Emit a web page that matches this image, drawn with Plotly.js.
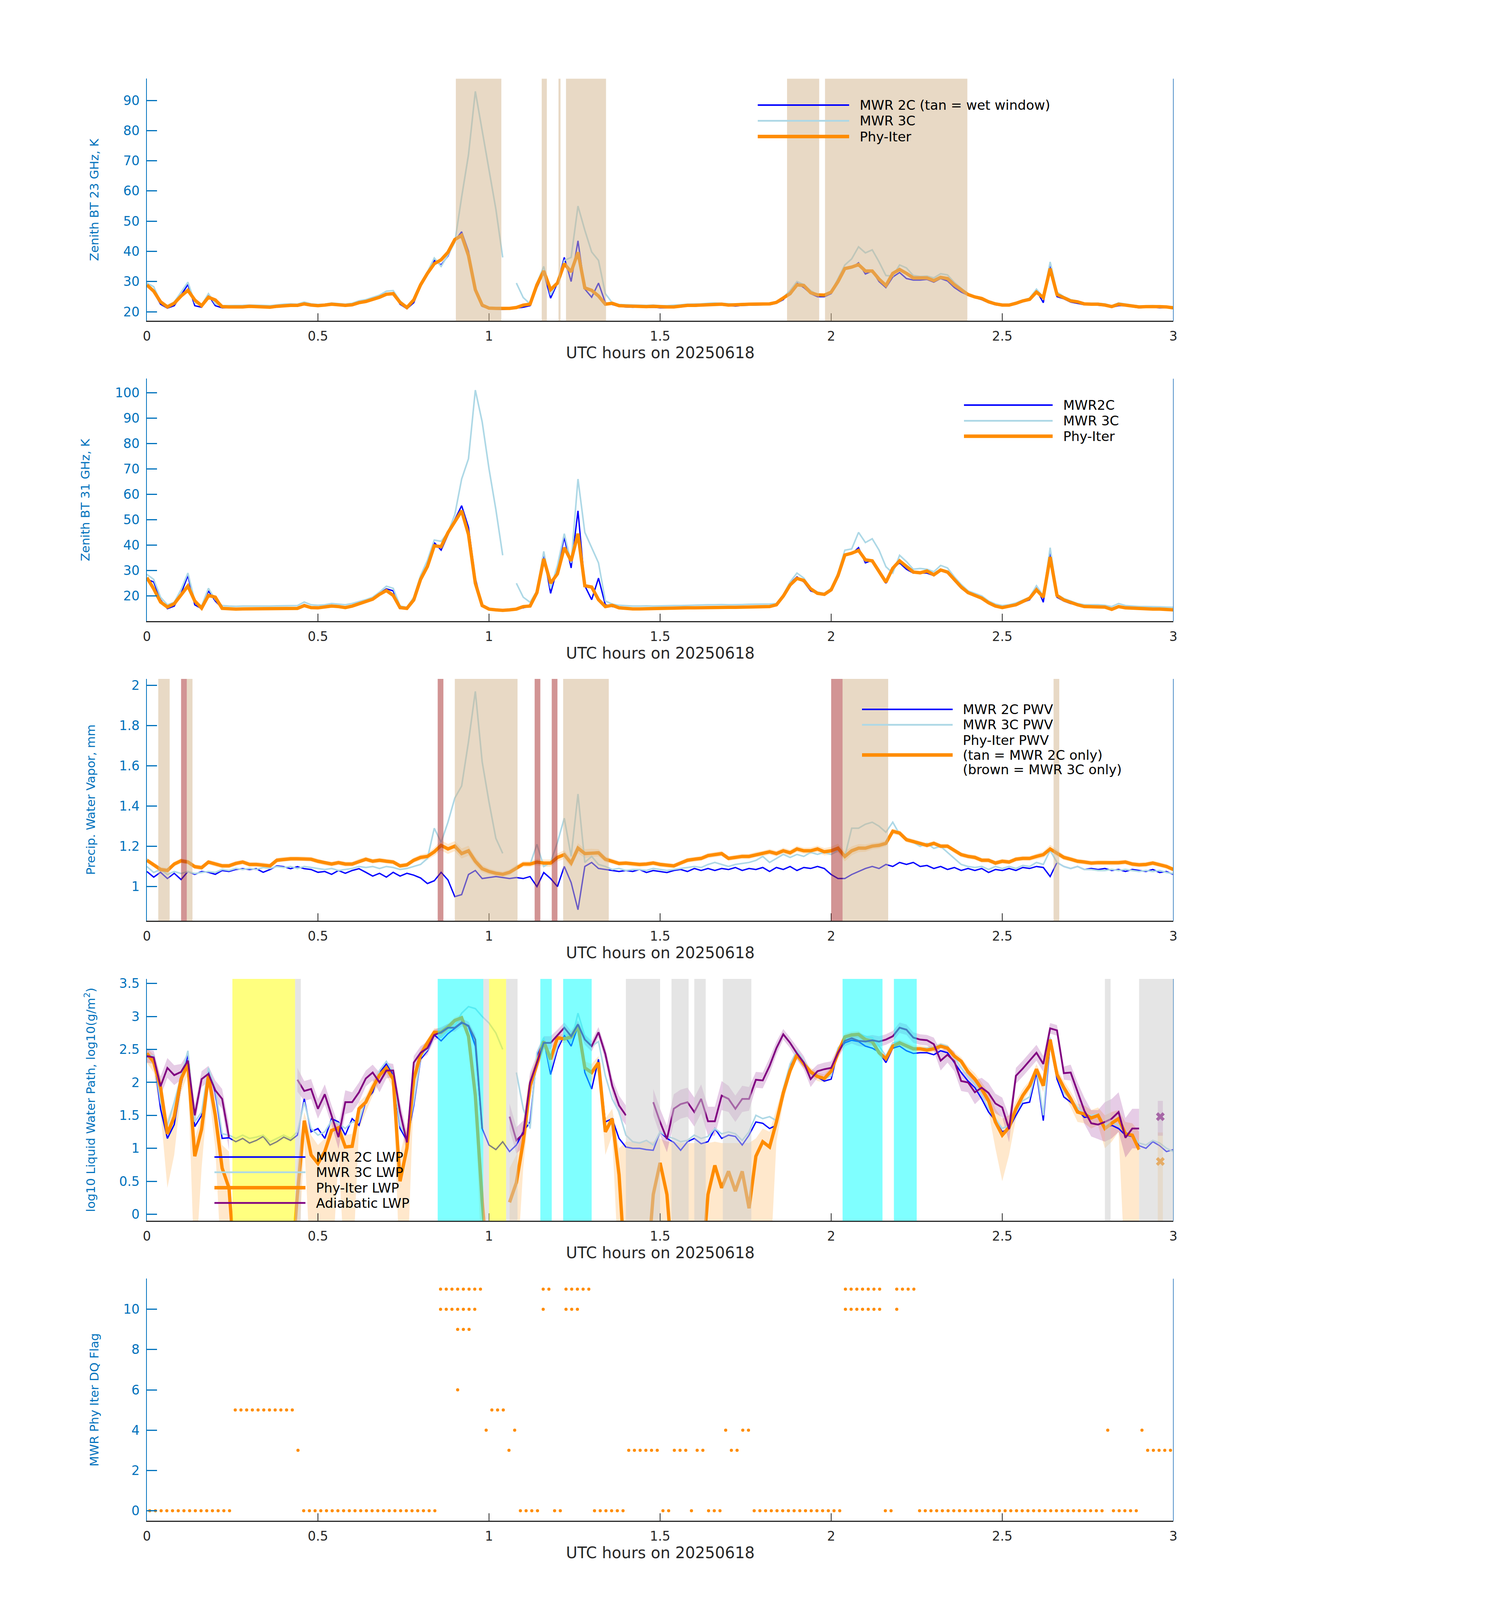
<!DOCTYPE html>
<html>
<head>
<meta charset="utf-8">
<script src="https://cdn.plot.ly/plotly-3.0.1.min.js"></script>
<style>html,body{margin:0;padding:0;background:#fff;overflow:hidden}</style>
</head>
<body>
<div id="chart"></div>
<script>
// time grid, hours after 00 UTC, 0.02 h step
const hours = [];
for (let i = 0; i <= 150; i++) hours.push(+(i * 0.02).toFixed(2));

// ---- panel 1: zenith BT 23 GHz (K) ----
const bt23Mwr2c = [
  28.5, 26.5, 22.5, 21.2, 22.0, 25.5, 29.0, 22.0, 21.5, 25.5,
  22.0, 21.3, 21.4, 21.3, 21.4, 21.6, 21.5, 21.5, 21.3, 21.6,
  21.8, 21.9, 21.8, 22.4, 22.0, 21.8, 22.0, 22.3, 22.1, 21.9,
  22.1, 22.8, 23.2, 23.8, 24.6, 26.0, 26.3, 22.5, 21.0, 23.0,
  28.5, 32.5, 37.0, 35.5, 38.5, 43.5, 46.5, 40.0, 28.0, 21.8,
  21.0, 20.9, 20.8, 20.9, 21.2, 21.5, 22.0, 28.0, 33.0, 24.5,
  29.5, 38.0, 30.0, 43.5, 27.5, 24.8, 29.5, 23.0, 22.4, 21.8,
  21.6, 21.5, 21.6, 21.4, 21.5, 21.3, 21.3, 21.4, 21.6, 21.9,
  21.8, 22.0, 22.2, 22.3, 22.2, 22.0, 21.9, 22.1, 22.2, 22.2,
  22.3, 22.3, 22.8, 24.0, 26.5, 29.5, 28.0, 26.0, 25.0, 25.0,
  26.0, 30.0, 34.0, 34.5, 36.2, 32.5, 33.5, 30.0, 28.0, 31.5,
  33.0, 31.0, 30.5, 30.5, 30.7, 29.8, 31.0, 30.2, 28.0, 26.5,
  25.5, 24.7, 24.0, 23.0, 22.3, 22.0, 22.2, 22.6, 23.3, 24.0,
  27.0, 23.0, 35.5, 25.0, 24.3, 23.2, 22.8, 22.3, 22.3, 22.2,
  22.0, 21.5, 22.0, 22.0, 21.6, 21.3, 21.5, 21.5, 21.3, 21.4,
  21.0];
const bt23Mwr3c = [
  29.5, 28.3, 23.3, 22.0, 23.2, 26.5, 29.8, 23.0, 22.2, 26.0,
  22.6, 22.0, 22.0, 22.1, 22.1, 22.2, 22.2, 22.1, 22.0, 22.3,
  22.5, 22.6, 22.5, 23.2, 22.6, 22.4, 22.5, 22.9, 22.7, 22.5,
  22.8, 23.6, 24.0, 24.7, 25.5, 26.8, 27.0, 23.6, 21.6, 24.2,
  29.0, 33.2, 37.8, 35.0, 38.8, 43.0, 58.0, 72.0, 93.0, 80.0,
  67.0, 54.0, 38.0, null, 29.5, 24.7, 22.6, 29.5, 35.0, 25.5,
  30.0, 37.0, 38.0, 55.0, 47.0, 39.8, 37.0, 26.0, 23.0, 22.4,
  22.3, 22.2, 22.2, 22.1, 22.2, 22.0, 22.0, 22.1, 22.3, 22.5,
  22.5, 22.6, 22.8, 22.9, 22.8, 22.6, 22.5, 22.7, 22.8, 22.8,
  22.8, 22.9, 23.3, 24.8, 27.0, 30.0, 29.0, 27.0, 25.6, 25.4,
  26.5, 31.0, 35.5, 37.5, 41.5, 39.5, 40.5, 36.5, 32.0, 31.8,
  35.5, 34.5, 32.0, 31.7, 31.8, 31.2, 32.6, 32.2, 29.7, 27.8,
  25.8, 25.0, 24.5, 23.6, 22.9, 22.5, 22.5, 23.1, 23.8, 24.5,
  27.5, 24.8, 36.5, 26.5, 25.0, 24.0, 23.5, 22.9, 22.8, 22.8,
  22.6, 22.0, 22.9, 22.5, 22.2, 21.9, 22.0, 22.0, 21.9, 21.8,
  21.6];
const bt23Phy = [
  28.9, 26.8, 23.3, 21.6, 22.8, 25.2, 27.1, 23.9, 22.0, 24.8,
  23.9, 21.7, 21.6, 21.5, 21.6, 21.8, 21.7, 21.7, 21.5, 21.8,
  22.0, 22.1, 22.1, 22.6, 22.2, 22.0, 22.2, 22.5, 22.3, 22.1,
  22.3, 23.0, 23.4, 24.0, 24.8, 25.8, 26.0, 23.1, 21.4, 23.9,
  28.9, 32.7, 35.9, 37.2, 39.7, 43.9, 45.3, 38.6, 27.3, 22.2,
  21.2, 21.1, 21.0, 21.1, 21.4, 22.2, 22.5, 28.9, 33.5, 27.3,
  29.5, 35.9, 33.2, 39.7, 27.9, 27.1, 25.2, 22.5, 22.8, 22.0,
  21.9, 21.8, 21.8, 21.7, 21.8, 21.6, 21.6, 21.6, 21.9, 22.1,
  22.1, 22.2, 22.5, 22.5, 22.5, 22.2, 22.2, 22.4, 22.5, 22.5,
  22.5, 22.6, 23.1, 24.4, 26.0, 28.9, 28.7, 26.3, 25.6, 25.5,
  26.5, 30.0, 34.3, 34.8, 35.6, 33.5, 33.5, 30.8, 28.7, 32.7,
  34.0, 32.7, 31.2, 31.2, 31.2, 30.3, 31.4, 31.0, 28.9, 27.3,
  25.7, 24.9, 24.4, 23.3, 22.6, 22.2, 22.2, 22.8, 23.6, 24.1,
  26.5, 24.7, 34.3, 25.7, 24.7, 23.6, 23.3, 22.6, 22.5, 22.5,
  22.2, 21.7, 22.5, 22.2, 21.9, 21.6, 21.7, 21.8, 21.7, 21.6,
  21.3];
// wet-window periods (hours)
const wetWindows = [[0.903, 1.036], [1.154, 1.169], [1.203, 1.209], [1.225, 1.342], [1.871, 1.965], [1.982, 2.398]];

// ---- panel 2: zenith BT 31 GHz (K) ----
const bt31Mwr2c = [
  26.5, 25.5, 18.5, 15.0, 16.0, 21.0, 28.0, 16.5, 15.0, 22.0,
  18.0, 15.2, 15.1, 15.0, 15.1, 15.1, 15.0, 15.0, 15.1, 15.2,
  15.2, 15.3, 15.3, 16.6, 15.6, 15.5, 15.8, 16.2, 16.0, 15.6,
  16.2, 17.0, 17.8, 19.0, 21.0, 22.8, 22.0, 15.0, 15.0, 19.0,
  27.0, 32.0, 41.0, 38.0, 44.0, 50.0, 55.5, 47.0, 27.0, 16.0,
  15.0, 14.6, 14.5, 14.6, 14.9, 15.3, 16.0, 22.0, 36.0, 21.0,
  31.0, 43.0, 31.0, 53.5, 24.0, 18.5, 27.0, 16.5, 15.8, 15.4,
  15.2, 15.1, 15.1, 15.2, 15.1, 15.2, 15.2, 15.3, 15.4, 15.5,
  15.5, 15.6, 15.7, 15.7, 15.8, 15.7, 15.7, 15.8, 15.9, 15.9,
  16.0, 16.0, 16.5, 20.0, 25.0, 27.5, 25.5, 22.0, 21.0, 20.5,
  22.0, 28.0, 36.0, 36.5, 39.0, 33.0, 34.0, 30.0, 25.0, 31.0,
  33.0, 30.5, 29.0, 29.0, 29.0, 28.0, 30.0, 29.0, 26.0, 23.0,
  21.0, 20.0, 19.0, 17.0, 16.0, 15.5, 16.0, 16.8, 17.5, 18.5,
  24.0, 17.5, 37.0, 19.5, 18.0, 17.0, 16.5, 15.8, 15.8, 15.8,
  15.6, 14.8, 15.8, 15.3, 15.1, 14.9, 15.0, 15.0, 14.9, 14.8,
  14.6];
const bt31Mwr3c = [
  28.5, 26.5, 19.5, 16.5, 17.5, 22.5, 29.0, 18.0, 16.0, 23.0,
  18.5, 16.2, 16.0, 15.9, 16.0, 16.0, 15.9, 15.9, 16.0, 16.1,
  16.1, 16.2, 16.2, 17.6, 16.5, 16.3, 16.5, 17.0, 16.8, 16.5,
  17.0, 17.8, 18.5, 19.5, 21.5, 23.8, 23.0, 16.0, 15.5, 19.5,
  28.0, 34.0, 42.0, 41.5, 45.0, 52.0, 66.0, 74.0, 101.0, 88.5,
  70.0, 54.0, 36.0, null, 25.0, 19.5, 17.5, 22.0, 37.5, 23.0,
  32.0, 44.5, 33.0, 66.0, 45.0, 39.0, 33.0, 18.0, 16.8, 16.3,
  16.1, 16.0, 16.0, 16.1, 16.0, 16.1, 16.1, 16.2, 16.2, 16.3,
  16.4, 16.4, 16.5, 16.5, 16.6, 16.5, 16.5, 16.6, 16.7, 16.7,
  16.8, 16.8, 17.0, 20.5, 25.5, 29.0, 27.0, 23.0, 21.5, 21.0,
  23.0, 29.0, 38.0, 38.5, 45.0, 41.0, 42.5, 38.0, 31.5, 29.0,
  36.0, 33.5, 30.5, 30.8, 30.5, 29.5, 32.0, 31.0, 27.5, 24.5,
  22.0, 21.0, 20.0, 18.0, 16.8, 16.2, 16.5, 17.2, 18.3, 19.5,
  24.0, 20.0, 39.0, 20.5, 19.0, 18.0, 17.0, 16.5, 16.5, 16.5,
  16.3, 15.8, 17.0, 16.2, 16.0, 15.8, 15.8, 15.8, 15.7, 15.6,
  15.5];
const bt31Phy = [
  27.2, 22.8, 17.6, 15.6, 16.9, 20.2, 23.9, 18.0, 15.2, 20.2,
  19.5, 15.1, 14.9, 14.8, 14.9, 14.9, 14.8, 14.8, 14.9, 15.0,
  15.0, 15.1, 15.1, 16.2, 15.4, 15.3, 15.6, 16.0, 15.8, 15.4,
  16.0, 16.8, 17.6, 18.7, 20.6, 22.1, 20.2, 15.4, 15.1, 18.4,
  26.5, 31.6, 39.7, 39.4, 44.9, 49.3, 53.5, 44.2, 25.0, 16.2,
  14.8, 14.5, 14.3, 14.5, 14.8, 15.8, 16.0, 21.3, 34.6, 25.0,
  28.7, 39.0, 33.8, 44.5, 24.0, 23.5, 18.5, 15.8, 16.3, 15.3,
  15.0, 14.9, 14.9, 15.0, 14.9, 15.0, 15.0, 15.1, 15.2, 15.3,
  15.3, 15.4, 15.5, 15.5, 15.6, 15.5, 15.5, 15.6, 15.7, 15.7,
  15.8, 15.8, 16.5, 19.9, 24.3, 26.9, 26.1, 22.8, 21.0, 20.6,
  22.4, 28.0, 36.1, 36.8, 37.9, 34.2, 33.8, 29.4, 25.4, 30.9,
  33.8, 31.6, 29.4, 29.1, 29.8, 28.3, 30.2, 29.4, 26.5, 23.5,
  21.3, 20.2, 19.1, 17.3, 16.0, 15.4, 15.8, 16.5, 17.8, 19.1,
  22.4, 19.5, 35.3, 20.2, 18.4, 17.3, 16.5, 15.8, 15.8, 15.6,
  15.6, 14.7, 15.8, 15.3, 15.1, 14.9, 14.8, 14.8, 14.8, 14.7,
  14.5];

// ---- panel 3: precipitable water vapour (mm) ----
const pwvMwr2c = [
  1.075, 1.047, 1.071, 1.040, 1.066, 1.035, 1.075, 1.061, 1.075, 1.071,
  1.061, 1.080, 1.075, 1.085, 1.089, 1.085, 1.089, 1.071, 1.085, 1.103,
  1.099, 1.089, 1.099, 1.089, 1.085, 1.071, 1.075, 1.061, 1.080, 1.066,
  1.080, 1.089, 1.071, 1.052, 1.066, 1.047, 1.071, 1.052, 1.066, 1.057,
  1.043, 1.015, 1.029, 1.071, 1.033, 0.950, 0.960, 1.060, 1.080, 1.040,
  1.045, 1.050, 1.045, 1.040, 1.045, 1.040, 1.050, 1.000, 1.070, 1.040,
  1.000, 1.100, 1.020, 0.885, 1.100, 1.120, 1.090, 1.085, 1.080, 1.075,
  1.080, 1.075, 1.085, 1.070, 1.080, 1.075, 1.070, 1.080, 1.085, 1.075,
  1.090, 1.080, 1.090, 1.080, 1.090, 1.085, 1.095, 1.080, 1.090, 1.085,
  1.095, 1.075, 1.095, 1.085, 1.100, 1.080, 1.095, 1.090, 1.100, 1.090,
  1.060, 1.040, 1.040, 1.060, 1.075, 1.090, 1.100, 1.090, 1.110, 1.100,
  1.120, 1.110, 1.120, 1.100, 1.105, 1.090, 1.100, 1.085, 1.095, 1.080,
  1.090, 1.080, 1.090, 1.070, 1.085, 1.080, 1.090, 1.080, 1.095, 1.090,
  1.100, 1.095, 1.050, 1.120, 1.100, 1.090, 1.100, 1.085, 1.090, 1.085,
  1.090, 1.080, 1.085, 1.075, 1.085, 1.080, 1.075, 1.085, 1.070, 1.075,
  1.060];
const pwvMwr3c = [
  1.100, 1.070, 1.085, 1.060, 1.075, 1.065, 1.075, 1.065, 1.070, 1.075,
  1.070, 1.085, 1.080, 1.090, 1.085, 1.090, 1.085, 1.095, 1.090, 1.100,
  1.095, 1.100, 1.090, 1.100, 1.095, 1.090, 1.085, 1.090, 1.080, 1.085,
  1.090, 1.100, 1.095, 1.100, 1.090, 1.100, 1.095, 1.085, 1.090, 1.100,
  1.110, 1.140, 1.290, 1.220, 1.320, 1.440, 1.500, 1.720, 1.970, 1.620,
  1.420, 1.240, 1.165, null, 1.100, 1.110, 1.110, 1.210, 1.100, 1.120,
  1.220, 1.340, 1.150, 1.460, 1.120, 1.150, 1.110, 1.100, 1.085, 1.090,
  1.080, 1.085, 1.085, 1.080, 1.090, 1.085, 1.080, 1.085, 1.090, 1.095,
  1.100, 1.095, 1.110, 1.120, 1.110, 1.100, 1.110, 1.115, 1.120, 1.130,
  1.150, 1.120, 1.140, 1.160, 1.145, 1.160, 1.150, 1.170, 1.160, 1.170,
  1.160, 1.180, 1.150, 1.290, 1.290, 1.310, 1.320, 1.300, 1.270, 1.320,
  1.260, 1.240, 1.220, 1.200, 1.215, 1.190, 1.200, 1.170, 1.140, 1.110,
  1.100, 1.095, 1.100, 1.085, 1.100, 1.090, 1.100, 1.090, 1.105, 1.100,
  1.120, 1.110, 1.180, 1.120, 1.100, 1.090, 1.100, 1.085, 1.085, 1.080,
  1.080, 1.085, 1.080, 1.085, 1.080, 1.075, 1.080, 1.075, 1.080, 1.070,
  1.065];
const pwvPhy = [
  1.131, 1.108, 1.085, 1.080, 1.112, 1.128, 1.122, 1.099, 1.094, 1.122,
  1.112, 1.103, 1.103, 1.115, 1.122, 1.110, 1.110, 1.108, 1.103, 1.131,
  1.136, 1.138, 1.138, 1.138, 1.136, 1.126, 1.117, 1.112, 1.119, 1.112,
  1.112, 1.126, 1.136, 1.126, 1.131, 1.126, 1.122, 1.103, 1.108, 1.131,
  1.145, 1.150, 1.173, 1.205, 1.187, 1.201, 1.164, 1.178, 1.126, 1.089,
  1.075, 1.066, 1.061, 1.071, 1.094, 1.112, 1.112, 1.122, 1.117, 1.117,
  1.145, 1.159, 1.117, 1.191, 1.164, 1.168, 1.168, 1.136, 1.126, 1.115,
  1.117, 1.112, 1.110, 1.112, 1.117, 1.110, 1.106, 1.103, 1.117, 1.131,
  1.136, 1.140, 1.154, 1.159, 1.164, 1.140, 1.145, 1.150, 1.150, 1.159,
  1.164, 1.173, 1.164, 1.178, 1.168, 1.187, 1.178, 1.178, 1.187, 1.173,
  1.178, 1.191, 1.150, 1.178, 1.191, 1.191, 1.201, 1.205, 1.215, 1.275,
  1.266, 1.233, 1.224, 1.215, 1.205, 1.215, 1.201, 1.201, 1.178, 1.159,
  1.150, 1.145, 1.131, 1.131, 1.117, 1.126, 1.122, 1.136, 1.140, 1.140,
  1.150, 1.159, 1.187, 1.168, 1.145, 1.136, 1.126, 1.122, 1.117, 1.119,
  1.119, 1.117, 1.119, 1.122, 1.112, 1.108, 1.110, 1.117, 1.108, 1.100,
  1.085];
const pwvPhyUnc = [
  0.012, 0.012, 0.013, 0.013, 0.012, 0.012, 0.012, 0.012, 0.012, 0.012,
  0.012, 0.012, 0.012, 0.012, 0.012, 0.012, 0.012, 0.012, 0.012, 0.012,
  0.012, 0.012, 0.012, 0.012, 0.012, 0.012, 0.012, 0.012, 0.012, 0.012,
  0.012, 0.012, 0.012, 0.012, 0.012, 0.012, 0.012, 0.012, 0.012, 0.013,
  0.014, 0.016, 0.020, 0.025, 0.025, 0.025, 0.025, 0.025, 0.022, 0.018,
  0.015, 0.014, 0.014, 0.014, 0.014, 0.014, 0.014, 0.016, 0.018, 0.018,
  0.020, 0.022, 0.022, 0.025, 0.022, 0.020, 0.018, 0.015, 0.013, 0.012,
  0.012, 0.012, 0.012, 0.012, 0.012, 0.012, 0.012, 0.012, 0.012, 0.012,
  0.012, 0.012, 0.013, 0.013, 0.013, 0.012, 0.012, 0.013, 0.013, 0.013,
  0.014, 0.014, 0.014, 0.015, 0.015, 0.015, 0.015, 0.016, 0.016, 0.018,
  0.020, 0.022, 0.025, 0.022, 0.020, 0.018, 0.016, 0.015, 0.015, 0.014,
  0.013, 0.013, 0.012, 0.012, 0.012, 0.012, 0.012, 0.012, 0.012, 0.012,
  0.012, 0.012, 0.012, 0.012, 0.012, 0.012, 0.012, 0.012, 0.012, 0.012,
  0.014, 0.016, 0.020, 0.016, 0.013, 0.012, 0.012, 0.012, 0.012, 0.012,
  0.012, 0.012, 0.012, 0.012, 0.012, 0.012, 0.012, 0.012, 0.012, 0.012,
  0.012];
// single-instrument periods (minutes after 00 UTC)
const only2cMinutes = [[2, 4], [7, 8], [54, 65], [73, 81], [122, 130], [159, 160]];
const only3cMinutes = [[6, 7], [51, 52], [68, 69], [71, 72], [120, 122]];

// ---- panel 4: log10 liquid water path ----
const lwpMwr2c = [
  2.39, 2.40, 1.60, 1.15, 1.36, 1.97, 2.43, 1.33, 1.50, 2.18,
  1.85, 1.15, 1.16, 1.10, 1.15, 1.08, 1.12, 1.18, 1.05, 1.10,
  1.17, 1.12, 1.20, 1.75, 1.25, 1.30, 1.15, 1.45, 1.40, 1.20,
  1.45, 1.35, 1.72, 1.85, 2.15, 2.28, 2.12, 1.30, 1.12, 1.65,
  2.35, 2.48, 2.72, 2.63, 2.74, 2.82, 2.90, 2.85, 2.55, 1.30,
  1.05, 0.98, 1.10, 0.95, 1.05, 1.25, 1.40, 2.40, 2.65, 2.12,
  2.50, 2.72, 2.55, 2.85, 2.15, 1.90, 2.35, 1.40, 1.45, 1.15,
  1.02, 1.00, 1.00, 0.98, 0.97, 1.25, 1.15, 1.09, 0.97, 1.10,
  1.15, 1.07, 1.10, 1.30, 1.15, 1.20, 1.18, 1.05, 1.20, 1.40,
  1.38, 1.30, 1.35, 1.85, 2.25, 2.45, 2.30, 2.14, 2.08, 2.02,
  2.05, 2.48, 2.60, 2.64, 2.62, 2.55, 2.52, 2.46, 2.30, 2.52,
  2.55, 2.48, 2.44, 2.45, 2.45, 2.42, 2.48, 2.45, 2.30, 2.15,
  2.02, 1.92, 1.75, 1.55, 1.42, 1.25, 1.30, 1.50, 1.68, 1.70,
  2.15, 1.42, 2.60, 2.05, 1.78, 1.70, 1.58, 1.47, 1.48, 1.50,
  1.30, 1.35, 1.30, 1.20, 1.18, 1.04, 1.00, 1.10, 1.04, 0.95,
  0.98];
const lwpMwr3c = [
  2.42, 2.40, 1.70, 1.35, 1.70, 2.10, 2.48, 1.40, 1.55, 2.22,
  1.90, 1.22, 1.20, 1.15, 1.20, 1.15, 1.17, 1.20, 1.10, 1.15,
  1.20, 1.15, 1.25, 1.70, 1.30, 1.20, 1.25, 1.42, 1.38, 1.30,
  1.40, 1.40, 1.75, 1.90, 2.18, 2.32, 2.15, 1.35, 1.15, 1.70,
  2.38, 2.50, 2.74, 2.68, 2.78, 2.86, 3.05, 3.15, 3.12, 3.00,
  2.90, 2.75, 2.50, null, 2.15, 1.60, 1.30, 2.45, 2.68, 2.20,
  2.55, 2.75, 2.60, 3.05, 2.70, 2.55, 2.62, 2.10, 1.75, 1.55,
  1.20, 1.10, 1.08, 1.12, 1.05, 1.25, 1.18, 1.15, 1.10, 1.12,
  1.20, 1.15, 1.18, 1.30, 1.22, 1.25, 1.22, 1.12, 1.25, 1.50,
  1.45, 1.48, 1.42, 1.90, 2.28, 2.48, 2.33, 2.17, 2.10, 2.05,
  2.10, 2.52, 2.65, 2.72, 2.74, 2.70, 2.68, 2.55, 2.40, 2.60,
  2.62, 2.55, 2.50, 2.52, 2.52, 2.53, 2.58, 2.55, 2.38, 2.22,
  2.08, 1.98, 1.80, 1.60, 1.45, 1.30, 1.35, 1.55, 1.72, 1.78,
  2.20, 1.50, 2.68, 2.10, 1.85, 1.75, 1.62, 1.52, 1.50, 1.52,
  1.35, 1.40, 1.35, 1.25, 1.20, 1.08, 1.05, 1.12, 1.08, 1.00,
  0.95];
// -1 marks retrievals far below the axis floor
const lwpPhy = [
  2.44, 2.31, 1.92, 1.22, 1.48, 2.05, 2.28, 0.88, 1.29, 2.10,
  1.50, 0.70, 0.40, -1, null, null, null, null, null, null,
  null, -1, 0.30, 1.42, 0.90, 0.77, 0.95, 1.27, 1.31, 1.02,
  1.03, 1.60, 1.70, 1.92, 2.11, 2.22, 2.05, 0.50, 1.00, 2.05,
  2.42, 2.60, 2.76, 2.76, 2.84, 2.94, 2.98, 2.70, 1.80, 0.20,
  -1, null, null, 0.18, 0.48, 1.10, 1.95, 2.28, 2.62, 2.35,
  2.68, 2.66, 2.69, 2.86, 2.22, 2.15, 2.30, 1.25, 1.45, 0.60,
  -1, -1, -1, -1, 0.30, 0.78, 0.30, -1, -1, -1,
  -1, -1, 0.30, 0.74, 0.40, 0.65, 0.35, 0.65, 0.09, 0.88,
  1.10, 1.02, 1.40, 1.84, 2.18, 2.42, 2.28, 2.16, 2.09, 2.06,
  2.17, 2.45, 2.69, 2.72, 2.73, 2.65, 2.62, 2.45, 2.36, 2.55,
  2.60, 2.56, 2.51, 2.51, 2.49, 2.51, 2.55, 2.52, 2.40, 2.32,
  2.16, 2.05, 1.90, 1.72, 1.40, 1.20, 1.32, 1.60, 1.80, 1.95,
  2.20, 1.95, 2.65, 2.12, 1.92, 1.75, 1.55, 1.52, 1.46, 1.50,
  1.30, 1.38, 1.45, 1.22, 1.20, 0.98, null, null, null, null,
  null];
const lwpPhyLo = [
  2.30, 2.15, 1.55, 0.40, 0.90, 1.85, 2.12, -1, 0.70, 1.92,
  1.00, -1, -1, -1, null, null, null, null, null, null,
  null, -1, -1, 1.10, -1, -1, -1, -1, 0.90, -1,
  -1, 1.30, 1.55, 1.80, 2.00, 2.12, 1.90, -1, -1, 1.85,
  2.30, 2.52, 2.70, 2.70, 2.78, 2.89, 2.93, 2.62, 1.60, -1,
  -1, null, null, -1, -1, 0.70, 1.75, 2.18, 2.55, 2.25,
  2.60, 2.60, 2.62, 2.80, 2.10, 2.00, 2.20, 0.90, 1.20, -1,
  -1, -1, -1, -1, -1, -1, -1, -1, -1, -1,
  -1, -1, -1, -1, -1, -1, -1, -1, -1, -1,
  -1, -1, 1.10, 1.70, 2.10, 2.36, 2.22, 2.10, 2.02, 2.00,
  2.10, 2.40, 2.64, 2.67, 2.68, 2.60, 2.57, 2.40, 2.30, 2.50,
  2.55, 2.51, 2.46, 2.46, 2.44, 2.46, 2.50, 2.47, 2.34, 2.25,
  2.08, 1.95, 1.78, 1.55, 1.00, 0.50, 0.90, 1.45, 1.70, 1.88,
  2.12, 1.85, 2.58, 2.02, 1.82, 1.62, 1.40, 1.38, 1.30, 1.35,
  1.00, 1.10, 1.25, -1, -1, -1, null, null, null, null,
  null];
const lwpPhyHi = [
  2.52, 2.42, 2.08, 1.45, 1.70, 2.18, 2.38, 1.15, 1.50, 2.20,
  1.70, 1.05, 0.95, -1, null, null, null, null, null, null,
  null, -1, 0.80, 1.55, 1.20, 1.05, 1.15, 1.40, 1.42, 1.20,
  1.22, 1.70, 1.80, 2.02, 2.20, 2.30, 2.15, 0.90, 1.35, 2.18,
  2.50, 2.66, 2.82, 2.82, 2.89, 2.99, 3.03, 2.78, 1.95, 0.60,
  -1, null, null, 0.70, 0.90, 1.40, 2.10, 2.36, 2.68, 2.44,
  2.74, 2.72, 2.75, 2.91, 2.32, 2.28, 2.40, 1.45, 1.60, 1.00,
  1.10, 1.10, 1.10, 1.10, 1.10, 1.15, 1.10, 1.10, 1.08, 1.08,
  1.08, 1.08, 1.08, 1.10, 1.08, 1.08, 1.08, 1.08, 1.08, 1.15,
  1.30, 1.25, 1.60, 1.95, 2.26, 2.48, 2.34, 2.22, 2.15, 2.12,
  2.24, 2.50, 2.74, 2.77, 2.78, 2.70, 2.67, 2.50, 2.42, 2.60,
  2.65, 2.61, 2.56, 2.56, 2.54, 2.56, 2.60, 2.57, 2.46, 2.38,
  2.24, 2.14, 2.00, 1.85, 1.60, 1.45, 1.50, 1.72, 1.90, 2.03,
  2.28, 2.05, 2.72, 2.22, 2.02, 1.86, 1.68, 1.65, 1.58, 1.62,
  1.50, 1.55, 1.58, 1.40, 1.38, 1.25, null, null, null, null,
  null];
const lwpAdi = [
  2.40, 2.38, 1.94, 2.22, 2.11, 2.16, 2.33, 1.50, 2.05, 2.13,
  1.88, 1.75, 1.17, null, null, null, null, null, null, null,
  null, null, 2.04, 1.87, 1.90, 1.60, 1.82, 1.50, 1.17, 1.70,
  1.70, 1.85, 2.06, 2.15, 2.00, 2.18, 2.18, 1.55, 1.09, 2.30,
  2.45, 2.52, 2.72, 2.76, 2.83, 2.83, 2.91, 2.86, 2.65, 1.30,
  null, null, null, 1.48, 1.12, 1.22, 2.00, 2.30, 2.60, 2.60,
  2.72, 2.83, 2.70, 2.88, 2.65, 2.55, 2.76, 2.43, 1.95, 1.65,
  1.50, null, null, null, 1.70, 1.40, 1.14, 1.60, 1.67, 1.70,
  1.55, 1.75, 1.41, 1.41, 1.80, 1.75, 1.60, 1.75, 1.75, 2.04,
  2.03, 2.25, 2.52, 2.73, 2.60, 2.44, 2.30, 2.05, 2.17, 2.20,
  2.22, 2.45, 2.63, 2.67, 2.63, 2.62, 2.64, 2.62, 2.65, 2.70,
  2.83, 2.80, 2.68, 2.65, 2.64, 2.58, 2.33, 2.42, 2.32, 2.02,
  2.00, 1.85, 1.92, 1.84, 1.68, 1.62, 1.29, 2.10, 2.21, 2.33,
  2.45, 2.28, 2.82, 2.79, 2.14, 2.15, 1.85, 1.57, 1.38, 1.36,
  1.40, 1.45, 1.55, 1.16, 1.30, 1.30, null, null, null, null,
  null];
const lwpAdiUnc = [
  0.10, 0.10, 0.15, 0.15, 0.15, 0.12, 0.12, 0.15, 0.12, 0.12,
  0.15, 0.15, 0.20, 0.15, 0.15, 0.15, 0.15, 0.15, 0.15, 0.15,
  0.15, 0.15, 0.18, 0.15, 0.15, 0.15, 0.15, 0.15, 0.18, 0.18,
  0.15, 0.15, 0.12, 0.12, 0.15, 0.12, 0.10, 0.15, 0.15, 0.10,
  0.10, 0.10, 0.08, 0.08, 0.06, 0.06, 0.06, 0.06, 0.08, 0.15,
  0.15, 0.15, 0.15, 0.20, 0.20, 0.20, 0.15, 0.12, 0.10, 0.10,
  0.08, 0.08, 0.08, 0.06, 0.08, 0.08, 0.08, 0.10, 0.12, 0.15,
  0.15, 0.20, 0.20, 0.20, 0.20, 0.20, 0.20, 0.22, 0.22, 0.22,
  0.22, 0.22, 0.22, 0.22, 0.22, 0.20, 0.20, 0.20, 0.18, 0.12,
  0.12, 0.12, 0.10, 0.08, 0.08, 0.10, 0.10, 0.12, 0.10, 0.10,
  0.10, 0.08, 0.08, 0.08, 0.08, 0.08, 0.08, 0.08, 0.08, 0.08,
  0.08, 0.08, 0.08, 0.08, 0.08, 0.10, 0.15, 0.12, 0.15, 0.15,
  0.15, 0.18, 0.15, 0.15, 0.15, 0.15, 0.20, 0.12, 0.12, 0.12,
  0.12, 0.12, 0.08, 0.08, 0.10, 0.12, 0.15, 0.20, 0.20, 0.22,
  0.30, 0.30, 0.30, 0.30, 0.30, 0.30, 0.30, 0.30, 0.30, 0.30,
  0.30];
// lone retrieval near the end of the period
const lwpLastTime = [2.962];
const lwpLastAdi = [1.48];
const lwpLastAdiUp = [0.24];
const lwpLastAdiDn = [0.29];
const lwpLastPhy = [0.80];
const lwpLastPhyUp = [0.44];
const lwpLastPhyDn = [1.5];
// flagged periods (minutes after 00 UTC)
const cloudyMinutes = [[51, 59], [69, 71], [73, 78], [122, 129], [131, 135]];
const yellowMinutes = [[15, 26], [60, 63]];
const grayMinutes = [[26, 27], [59, 60], [63, 65], [84, 90], [92, 95], [96, 98], [101, 106], [168, 169], [174, 180]];

// ---- panel 5: DQ flag runs [first minute, last minute] ----
const flag0Runs = [[0, 14], [27, 50], [65, 68], [71, 72], [78, 83], [90, 91], [95, 95], [98, 100], [106, 121], [129, 130], [135, 167], [169, 173]];
const flag3Runs = [[26, 26], [63, 63], [84, 89], [92, 94], [96, 97], [102, 103], [175, 179]];
const flag4Runs = [[59, 59], [64, 64], [101, 101], [104, 105], [168, 168], [174, 174]];
const flag5Runs = [[15, 25], [60, 62]];
const flag6Runs = [[54, 54]];
const flag9Runs = [[54, 56]];
const flag10Runs = [[51, 57], [69, 69], [73, 75], [122, 128], [131, 131]];
const flag11Runs = [[51, 58], [69, 70], [73, 77], [122, 128], [131, 134]];

// ================= drawing =================
// Positions below are in the 3825 x 6000 design frame; the figure is fitted to
// the height the window really offers so every panel stays in the photograph.
const W = 3825, REF_H = 6000;
const H = Math.min(REF_H, Math.max(1000, window.innerHeight || REF_H));
const sy = H / REF_H;
const fh = 0.6 + 0.4 * sy;        // horizontal text scale
const fr = sy;                    // rotated text scale
const TICK = Math.round(38 * fh), XTITLE = Math.round(46 * fh), LEG = Math.round(39 * fh);
const YTITLE = Math.round(46 * fr);
const FONT = 'DejaVu Sans';
const AXBLUE = '#0072BD', DARK = '#262626';
const C2 = '#0000FF', C3 = '#ADD8E6', CPHY = '#FF8C00', CADI = '#800080';
const plotLeft = 376, plotRight = 3004;
const panelTop = [295, 1420, 2546, 3671, 4795];
const panelBottom = [1203, 2329, 3453, 4578, 5703];
const px = v => v / W;
const py = v => 1 - v / REF_H;

const chartDiv = document.getElementById('chart');
chartDiv.style.width = W + 'px';
chartDiv.style.height = H + 'px';

const traces = [];
function addLine(ys, color, width, n) {
  traces.push({type: 'scatter', mode: 'lines', x: hours, y: ys,
    xaxis: 'x' + (n > 1 ? n : ''), yaxis: 'y' + (n > 1 ? n : ''),
    line: {color: color, width: width}, connectgaps: false,
    hoverinfo: 'skip', showlegend: false});
}
function addBand(lo, hi, color, n) {
  let seg = [];
  const flush = () => {
    if (seg.length > 1) {
      const back = seg.slice().reverse();
      traces.push({type: 'scatter', mode: 'lines',
        x: seg.map(i => hours[i]).concat(back.map(i => hours[i])),
        y: seg.map(i => hi[i]).concat(back.map(i => lo[i])),
        fill: 'toself', fillcolor: color, line: {width: 0, color: 'rgba(0,0,0,0)'},
        xaxis: 'x' + (n > 1 ? n : ''), yaxis: 'y' + (n > 1 ? n : ''),
        hoverinfo: 'skip', showlegend: false});
    }
    seg = [];
  };
  for (let i = 0; i < hours.length; i++) {
    if (lo[i] === null || hi[i] === null) flush(); else seg.push(i);
  }
  flush();
}

// panel 1
addLine(bt23Mwr2c, C2, 3.5, 1);
addLine(bt23Mwr3c, C3, 4, 1);
addLine(bt23Phy, CPHY, 8.5, 1);
// panel 2
addLine(bt31Mwr2c, C2, 3.5, 2);
addLine(bt31Mwr3c, C3, 4, 2);
addLine(bt31Phy, CPHY, 8.5, 2);
// panel 3
addBand(pwvPhy.map((v, i) => v === null ? null : v - pwvPhyUnc[i]),
        pwvPhy.map((v, i) => v === null ? null : v + pwvPhyUnc[i]), 'rgba(255,140,0,0.2)', 3);
addLine(pwvMwr2c, C2, 3.5, 3);
addLine(pwvMwr3c, C3, 4, 3);
addLine(pwvPhy, CPHY, 8.5, 3);
// panel 4
addBand(lwpPhyLo, lwpPhyHi, 'rgba(255,140,0,0.2)', 4);
addBand(lwpAdi.map((v, i) => v === null ? null : v - lwpAdiUnc[i]),
        lwpAdi.map((v, i) => v === null ? null : v + lwpAdiUnc[i]), 'rgba(128,0,128,0.2)', 4);
addLine(lwpMwr2c, C2, 3.5, 4);
addLine(lwpMwr3c, C3, 4, 4);
addLine(lwpPhy, CPHY, 8.5, 4);
addLine(lwpAdi, CADI, 4.5, 4);
traces.push({type: 'scatter', mode: 'markers', x: lwpLastTime, y: lwpLastPhy, xaxis: 'x4', yaxis: 'y4',
  marker: {symbol: 'x', size: 20, color: CPHY},
  error_y: {type: 'data', symmetric: false, array: lwpLastPhyUp, arrayminus: lwpLastPhyDn,
    color: 'rgba(255,140,0,0.2)', thickness: 13, width: 0},
  hoverinfo: 'skip', showlegend: false});
traces.push({type: 'scatter', mode: 'markers', x: lwpLastTime, y: lwpLastAdi, xaxis: 'x4', yaxis: 'y4',
  marker: {symbol: 'x', size: 20, color: CADI},
  error_y: {type: 'data', symmetric: false, array: lwpLastAdiUp, arrayminus: lwpLastAdiDn,
    color: 'rgba(128,0,128,0.2)', thickness: 13, width: 0},
  hoverinfo: 'skip', showlegend: false});
// panel 5
const flagX = [], flagY = [];
[[0, flag0Runs], [3, flag3Runs], [4, flag4Runs], [5, flag5Runs], [6, flag6Runs],
 [9, flag9Runs], [10, flag10Runs], [11, flag11Runs]].forEach(([flag, runs]) => {
  runs.forEach(([a, b]) => {
    for (let m = a; m <= b; m++) { flagX.push((m + 0.5) / 60); flagY.push(flag); }
  });
});
traces.push({type: 'scatter', mode: 'markers', x: flagX, y: flagY, xaxis: 'x5', yaxis: 'y5',
  marker: {size: 8, color: CPHY}, hoverinfo: 'skip', showlegend: false});

// ---- axes ----
const yRanges = [[17, 97.2], [10.1, 105.5], [0.83, 2.032], [-0.1, 3.57], [-0.5, 11.52]];
const yTicks = [[20, 30, 40, 50, 60, 70, 80, 90], [20, 30, 40, 50, 60, 70, 80, 90, 100],
  [1, 1.2, 1.4, 1.6, 1.8, 2], [0, 0.5, 1, 1.5, 2, 2.5, 3, 3.5], [0, 2, 4, 6, 8, 10]];
const yTitles = ['Zenith BT 23 GHz, K', 'Zenith BT 31 GHz, K', 'Precip. Water Vapor, mm',
  'log10 Liquid Water Path, log10(g/m<sup>2</sup>)', 'MWR Phy Iter DQ Flag'];
const yTitleX = [241, 218, 232, 230, 241];

const layout = {
  width: W, height: H, margin: {l: 0, r: 0, t: 0, b: 0},
  paper_bgcolor: '#ffffff', plot_bgcolor: 'rgba(0,0,0,0)',
  font: {family: FONT, color: DARK}, showlegend: false, hovermode: false,
  shapes: [], annotations: []
};
for (let k = 0; k < 5; k++) {
  const sfx = k === 0 ? '' : String(k + 1);
  layout['xaxis' + sfx] = {
    domain: [px(plotLeft), px(plotRight)], anchor: 'y' + sfx, range: [0, 3],
    tickvals: [0, 0.5, 1, 1.5, 2, 2.5, 3], ticks: 'inside', ticklen: Math.round(28 * sy), tickwidth: 2,
    tickcolor: DARK, showline: true, linecolor: DARK, linewidth: 3,
    showgrid: false, zeroline: false,
    ticklabelstandoff: Math.max(0, Math.round(48 * sy - 0.76 * TICK)),
    tickfont: {family: FONT, size: TICK, color: DARK}
  };
  layout['yaxis' + sfx] = {
    domain: [py(panelBottom[k]), py(panelTop[k])], anchor: 'x' + sfx, range: yRanges[k],
    tickvals: yTicks[k], ticks: 'inside', ticklen: 26, tickwidth: 3,
    tickcolor: AXBLUE, showline: true, linecolor: AXBLUE, linewidth: 2,
    showgrid: false, zeroline: false, ticklabelstandoff: 10,
    tickfont: {family: FONT, size: TICK, color: AXBLUE}
  };
  // right edge
  layout.shapes.push({type: 'line', xref: 'paper', yref: 'paper',
    x0: px(plotRight), x1: px(plotRight), y0: py(panelBottom[k]), y1: py(panelTop[k]),
    line: {color: '#4f8fc8', width: 2}});
  layout.annotations.push({text: 'UTC hours on 20250618', xref: 'paper', yref: 'paper',
    x: px((plotLeft + plotRight) / 2), y: py(panelBottom[k] + 120), xanchor: 'center', yanchor: 'middle',
    showarrow: false, font: {family: FONT, size: XTITLE, color: DARK}});
  layout.annotations.push({text: yTitles[k], xref: 'paper', yref: 'paper', textangle: -90,
    x: px(yTitleX[k]), y: py((panelTop[k] + panelBottom[k]) / 2), xanchor: 'center', yanchor: 'middle',
    showarrow: false, font: {family: FONT, size: YTITLE, color: AXBLUE}});
}

function bandShapes(ranges, scale, color, sfx) {
  ranges.forEach(([a, b]) => layout.shapes.push({type: 'rect', xref: 'x' + sfx, yref: 'y' + sfx + ' domain',
    x0: a / scale, x1: b / scale, y0: 0, y1: 1, fillcolor: color, line: {width: 0}, layer: 'above'}));
}
bandShapes(wetWindows, 1, 'rgba(210,180,140,0.5)', '');
bandShapes(only2cMinutes, 60, 'rgba(210,180,140,0.5)', '3');
bandShapes(only3cMinutes, 60, 'rgba(165,42,42,0.5)', '3');
bandShapes(yellowMinutes, 60, 'rgba(255,255,0,0.5)', '4');
bandShapes(grayMinutes, 60, 'rgba(204,204,204,0.5)', '4');
bandShapes(cloudyMinutes, 60, 'rgba(0,255,255,0.5)', '4');

// ---- legends (keys + labels) ----
function legend(x0, x1, tx, rows) {
  rows.forEach(r => {
    if (r.color) layout.shapes.push({type: 'line', xref: 'paper', yref: 'paper',
      x0: px(x0), x1: px(x1), y0: py(r.y), y1: py(r.y), line: {color: r.color, width: r.width}});
    if (r.text) layout.annotations.push({text: r.text, xref: 'paper', yref: 'paper',
      x: px(tx), y: py(r.y), xanchor: 'left', yanchor: 'middle', showarrow: false,
      font: {family: FONT, size: LEG, color: '#000000'}});
  });
}
legend(1940, 2174, 2199, [
  {y: 394, color: C2, width: 4, text: 'MWR 2C (tan = wet window)'},
  {y: 453, color: C3, width: 4.5, text: 'MWR 3C'},
  {y: 512, color: CPHY, width: 9, text: 'Phy-Iter'}]);
legend(2468, 2695, 2720, [
  {y: 1519, color: C2, width: 4, text: 'MWR2C'},
  {y: 1578, color: C3, width: 4.5, text: 'MWR 3C'},
  {y: 1636, color: CPHY, width: 9, text: 'Phy-Iter'}]);
legend(2207, 2439, 2463, [
  {y: 2660, color: C2, width: 4, text: 'MWR 2C PWV'},
  {y: 2718, color: C3, width: 4.5, text: 'MWR 3C PWV'},
  {y: 2776, text: 'Phy-Iter PWV'},
  {y: 2831, color: CPHY, width: 9, text: '(tan = MWR 2C only)'},
  {y: 2886, text: '(brown = MWR 3C only)'}]);
legend(549, 782, 807, [
  {y: 4339, color: C2, width: 4, text: 'MWR 2C LWP'},
  {y: 4396, color: C3, width: 4.5, text: 'MWR 3C LWP'},
  {y: 4454, color: CPHY, width: 9, text: 'Phy-Iter LWP'},
  {y: 4511, color: CADI, width: 4.5, text: 'Adiabatic LWP'}]);

Plotly.newPlot('chart', traces, layout, {staticPlot: true, displayModeBar: false});
</script>
</body>
</html>
